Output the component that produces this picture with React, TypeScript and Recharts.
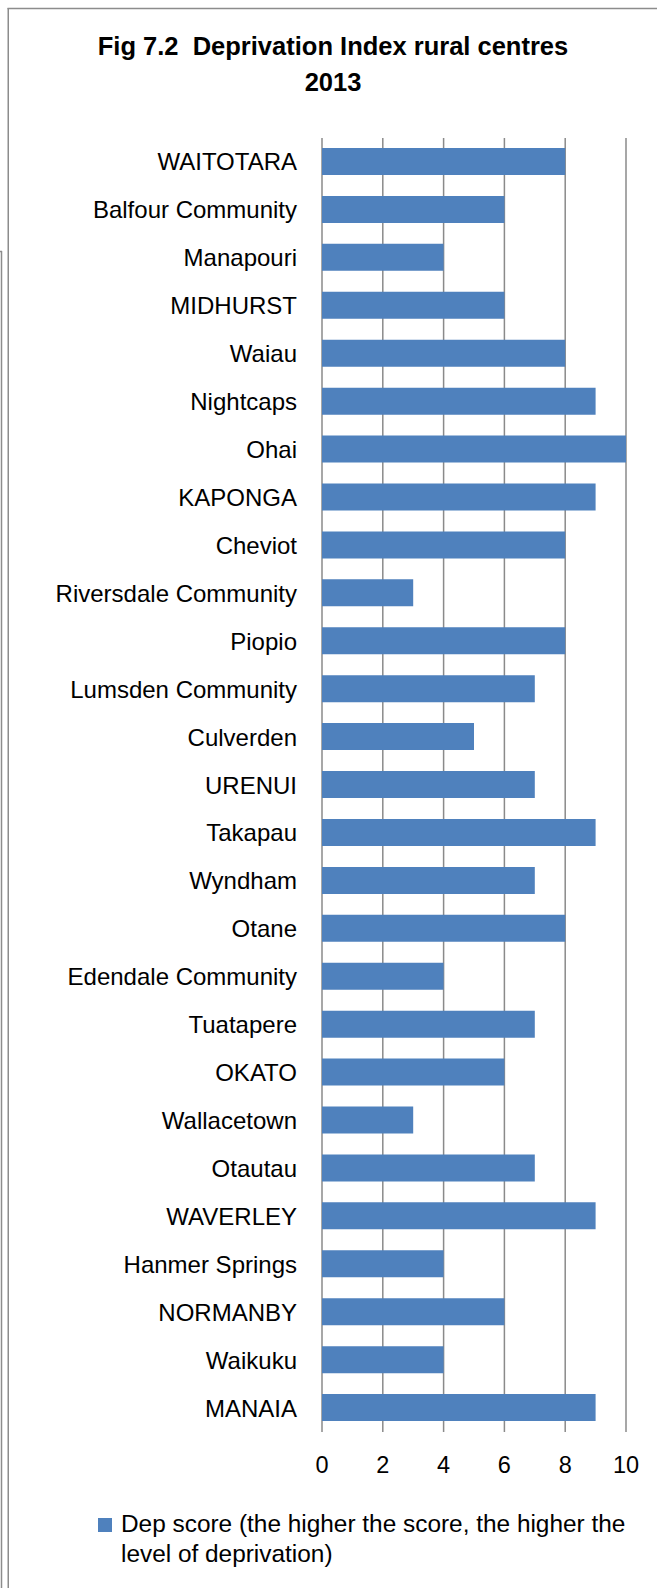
import React from "react";
import { BarChart, Bar, XAxis, YAxis, CartesianGrid, Legend } from "recharts";

const categories = [
  "WAITOTARA", "Balfour Community", "Manapouri", "MIDHURST", "Waiau", "Nightcaps", "Ohai",
  "KAPONGA", "Cheviot", "Riversdale Community", "Piopio", "Lumsden Community", "Culverden",
  "URENUI", "Takapau", "Wyndham", "Otane", "Edendale Community", "Tuatapere", "OKATO",
  "Wallacetown", "Otautau", "WAVERLEY", "Hanmer Springs", "NORMANBY", "Waikuku", "MANAIA",
];
const depScores = [8, 6, 4, 6, 8, 9, 10, 9, 8, 3, 8, 7, 5, 7, 9, 7, 8, 4, 7, 6, 3, 7, 9, 4, 6, 4, 9];
const xTicks = [0, 2, 4, 6, 8, 10];
const seriesName = "Dep score (the higher the score, the higher the level of deprivation)";
const titleLines = ["Fig 7.2  Deprivation Index rural centres", "2013"];

const data = categories.map((name, i) => ({ name, score: depScores[i] }));

const FONT = "'Liberation Sans', Arial, sans-serif";
const BLUE = "#4F81BD";
const GRID = "#8a8a8a";

const LegendContent = () => (
  <div style={{ position: "relative", width: 657, height: 70, fontFamily: FONT, fontSize: 24.4, lineHeight: "30px", color: "#000" }}>
    <div style={{ position: "absolute", left: 98, top: 9, width: 14, height: 14, background: BLUE }} />
    <div style={{ position: "absolute", left: 121, top: 0, width: 522 }}>{seriesName}</div>
  </div>
);

export default function App() {
  return (
    <div style={{ position: "absolute", left: 0, top: 0, width: 657, height: 1588, background: "#fff" }}>
      <BarChart
        width={657}
        height={1588}
        data={data}
        layout="vertical"
        margin={{ top: 138, right: 31, bottom: 126, left: 0 }}
      >
        <CartesianGrid horizontal={false} vertical={true} stroke={GRID} strokeWidth={1.5} />
        <XAxis
          type="number"
          domain={[0, 10]}
          ticks={xTicks}
          axisLine={false}
          tickLine={false}
          tickSize={0}
          tickMargin={24}
          height={30}
          interval={0}
          tick={{ fill: "#000", fontSize: 23.5, fontFamily: FONT }}
        />
        <YAxis
          type="category"
          dataKey="name"
          width={322}
          axisLine={false}
          tickLine={false}
          tickSize={0}
          tickMargin={25}
          interval={0}
          tick={{ fill: "#000", fontSize: 24, fontFamily: FONT }}
        />
        <Legend
          verticalAlign="middle"
          align="center"
          layout="horizontal"
          content={<LegendContent />}
          wrapperStyle={{ position: "absolute", left: 0, top: 1509, width: 657, height: 70 }}
        />
        <Bar dataKey="score" name={seriesName} fill={BLUE} barSize={27} isAnimationActive={false} />
      </BarChart>
      <svg
        width={657}
        height={1588}
        style={{ position: "absolute", left: 0, top: 0, pointerEvents: "none" }}
      >
        <line x1={7.5} y1={8.5} x2={657} y2={8.5} stroke="#8c8c8c" strokeWidth={1.5} />
        <line x1={8.25} y1={8} x2={8.25} y2={1588} stroke="#8c8c8c" strokeWidth={1.5} />
        <line x1={0} y1={251.5} x2={2} y2={251.5} stroke="#8c8c8c" strokeWidth={1.5} />
        <line x1={1.5} y1={251} x2={1.5} y2={1588} stroke="#8c8c8c" strokeWidth={1.5} />
        <text x={333} y={55} textAnchor="middle" fontFamily={FONT} fontWeight="bold" fontSize={25.5} fill="#000" style={{ whiteSpace: "pre" }}>
          {titleLines[0]}
        </text>
        <text x={333} y={91} textAnchor="middle" fontFamily={FONT} fontWeight="bold" fontSize={25.5} fill="#000">
          {titleLines[1]}
        </text>
      </svg>
    </div>
  );
}
